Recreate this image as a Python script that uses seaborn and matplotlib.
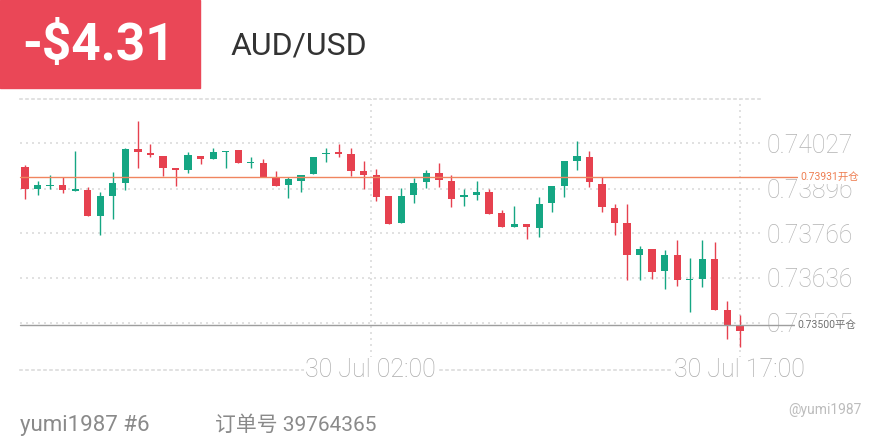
import matplotlib
matplotlib.use('Agg')
import numpy as np
import matplotlib.pyplot as plt
import matplotlib.patches as mpatches
import seaborn as sns

# 30-min candles, AUD/USD
opens = [0.73958, 0.73896, 0.73903, 0.73905, 0.73890, 0.73892, 0.73817, 0.73874, 0.73911, 0.74010,
         0.74000, 0.73992, 0.73956, 0.73950, 0.73991, 0.73983, 0.74003, 0.74007, 0.73969, 0.73971,
         0.73929, 0.73906, 0.73919, 0.73939, 0.73996, 0.74002, 0.73996, 0.73948, 0.73935, 0.73873,
         0.73797, 0.73876, 0.73916, 0.73940, 0.73919, 0.73871, 0.73876, 0.73886, 0.73824, 0.73785,
         0.73794, 0.73782, 0.73853, 0.73904, 0.73977, 0.73988, 0.73909, 0.73840, 0.73797, 0.73703,
         0.73719, 0.73657, 0.73704, 0.73629, 0.73632, 0.73692, 0.73542, 0.73498]
highs = [0.73964, 0.73918, 0.73935, 0.73930, 0.74005, 0.73900, 0.73885, 0.73945, 0.74013, 0.74092,
         0.74026, 0.73992, 0.73956, 0.74001, 0.73991, 0.74015, 0.74006, 0.74007, 0.73987, 0.73982,
         0.73948, 0.73929, 0.73935, 0.73989, 0.74013, 0.74026, 0.74013, 0.73977, 0.73954, 0.73873,
         0.73897, 0.73926, 0.73950, 0.73971, 0.73935, 0.73894, 0.73918, 0.73896, 0.73834, 0.73845,
         0.73794, 0.73872, 0.73903, 0.73976, 0.74034, 0.74006, 0.73930, 0.73851, 0.73851, 0.73729,
         0.73719, 0.73717, 0.73746, 0.73693, 0.73746, 0.73741, 0.73569, 0.73528]
lows = [0.73865, 0.73877, 0.73894, 0.73884, 0.73890, 0.73817, 0.73761, 0.73807, 0.73892, 0.73957,
        0.73987, 0.73933, 0.73903, 0.73942, 0.73967, 0.73983, 0.73957, 0.73969, 0.73957, 0.73930,
        0.73904, 0.73868, 0.73887, 0.73939, 0.73974, 0.73987, 0.73933, 0.73894, 0.73860, 0.73794,
        0.73797, 0.73853, 0.73897, 0.73900, 0.73843, 0.73845, 0.73863, 0.73822, 0.73785, 0.73785,
        0.73748, 0.73754, 0.73829, 0.73872, 0.73950, 0.73900, 0.73829, 0.73761, 0.73630, 0.73630,
        0.73632, 0.73604, 0.73613, 0.73538, 0.73611, 0.73543, 0.73458, 0.73436]
closes = [0.73894, 0.73906, 0.73905, 0.73891, 0.73893, 0.73817, 0.73873, 0.73911, 0.74010, 0.74001,
          0.73994, 0.73957, 0.73951, 0.73993, 0.73983, 0.74002, 0.74006, 0.73969, 0.73973, 0.73930,
          0.73904, 0.73923, 0.73935, 0.73989, 0.73999, 0.73997, 0.73947, 0.73936, 0.73872, 0.73794,
          0.73875, 0.73913, 0.73942, 0.73921, 0.73866, 0.73876, 0.73886, 0.73822, 0.73785, 0.73793,
          0.73783, 0.73850, 0.73903, 0.73976, 0.73991, 0.73914, 0.73841, 0.73797, 0.73703, 0.73719,
          0.73654, 0.73703, 0.73629, 0.73633, 0.73692, 0.73543, 0.73498, 0.73481]

price_ticks = [0.74027, 0.73896, 0.73766, 0.73636, 0.73505]
time_tick_pos = [27.55, 57]
time_tick_labels = ['30 Jul 02:00', '30 Jul 17:00']

open_price = 0.73931
close_price = 0.73500
pnl_text = '-$4.31'
symbol = 'AUD/USD'
user_text = 'yumi1987 #6'
order_text = '订单号 39764365'
watermark = '@yumi1987'

sns.set_theme(style='white')
plt.rcParams['font.family'] = ['Roboto', 'Noto Sans CJK SC', 'DejaVu Sans']

RED = '#E6414F'
GREEN = '#15A683'
GRID = '#DCDCDC'
DOTS = (0, (1.2, 2.4))

fig = plt.figure(figsize=(8.8, 4.4), dpi=100)
fig.patch.set_facecolor('white')
ax = fig.add_axes([20 / 880, 70 / 440, 740 / 880, 271 / 440])

o = np.array(opens)
h = np.array(highs)
l = np.array(lows)
c = np.array(closes)
idx = np.arange(len(o))
colors = np.where(c >= o, GREEN, RED)

# wicks + bodies
ax.vlines(idx, l, h, colors=colors, lw=1, zorder=3)
body = np.abs(c - o)
body_h = np.maximum(body, 0.00004)
body_bottom = np.minimum(o, c) - (body_h - body) / 2
ax.bar(idx, body_h, bottom=body_bottom, width=0.58, color=colors, linewidth=0, zorder=4)

ax.set_xlim(-0.4, 58.6)
ax.set_ylim(0.733683, 0.741564)

# dotted grid and frame
ax.grid(True, color=GRID, lw=1.2, linestyle=DOTS)
for side in ['left', 'right']:
    ax.spines[side].set_visible(False)
for side in ['top', 'bottom']:
    ax.spines[side].set_visible(True)
    ax.spines[side].set_color(GRID)
    ax.spines[side].set_linewidth(1.2)
    ax.spines[side].set_linestyle(DOTS)

ax.yaxis.tick_right()
ax.set_yticks(price_ticks)
ax.set_yticklabels([f'{v:.5f}' for v in price_ticks], fontweight='light')
ax.tick_params(axis='y', length=0, pad=5, labelsize=17.8, labelcolor='#B3B3B3')

ax.set_xticks(time_tick_pos)
ax.set_xticklabels([])
ax.tick_params(axis='x', length=0)
for pos, lab in zip(time_tick_pos, time_tick_labels):
    ax.text(pos, 0, lab, transform=ax.get_xaxis_transform(), ha='center', va='center',
            fontsize=18, fontweight='light', color='#ABABAB', zorder=6, clip_on=False,
            bbox=dict(facecolor='white', edgecolor='none', pad=1))

# open / close levels
ax.axhline(open_price, xmin=0, xmax=777 / 740, color='#F0855F', lw=1, clip_on=False, zorder=5)
ax.text(780 / 740, open_price, f'{open_price:.5f}开仓', transform=ax.get_yaxis_transform(),
        ha='left', va='center', fontsize=7.5, color='#EE7E52', zorder=6, clip_on=False,
        bbox=dict(facecolor='white', edgecolor='none', pad=1.5))
ax.axhline(close_price, xmin=0, xmax=777 / 740, color='#9E9E9E', lw=1, clip_on=False, zorder=5)
ax.text(777 / 740, close_price, f'{close_price:.5f}平仓', transform=ax.get_yaxis_transform(),
        ha='left', va='center', fontsize=7.5, color='#707070', zorder=6, clip_on=False,
        bbox=dict(facecolor='white', edgecolor='none', pad=1.5))

# header
fig.add_artist(mpatches.Rectangle((0, 1 - 88 / 440), 200 / 880, 88 / 440,
                                  transform=fig.transFigure, color='#EA4757', zorder=0))
fig.text(22 / 880, 1 - 46 / 440, pnl_text, color='white', fontsize=37, fontweight='bold',
         ha='left', va='center')
fig.text(230 / 880, 1 - 46 / 440, symbol, color='#333333', fontsize=23, ha='left', va='center')

# footer
fig.text(20 / 880, 1 - 425 / 440, user_text, color='#8A8A8A', fontsize=16, ha='left', va='center')
fig.text(215 / 880, 1 - 425 / 440, order_text, color='#8A8A8A', fontsize=15, ha='left', va='center')
fig.text(788 / 880, 1 - 410 / 440, watermark, color='#BDBDBD', fontsize=10, ha='left', va='center')

fig.savefig('out.png', dpi=100, facecolor='white')
